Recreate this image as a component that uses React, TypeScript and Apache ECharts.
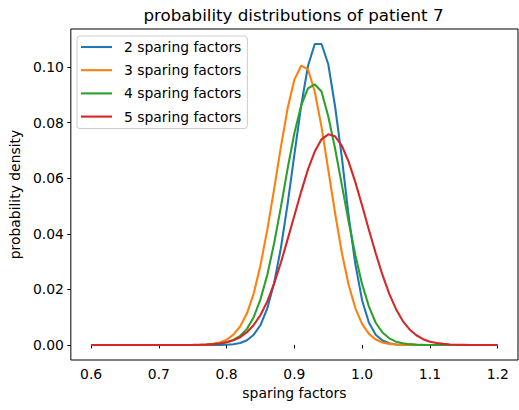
import React, { useEffect, useRef } from "react";
import * as echarts from "echarts";

const X_VALUES = [
  0.6, 0.61, 0.62, 0.63, 0.64, 0.65, 0.66, 0.67, 0.68, 0.69,
  0.7, 0.71, 0.72, 0.73, 0.74, 0.75, 0.76, 0.77, 0.78, 0.79,
  0.8, 0.81, 0.82, 0.83, 0.84, 0.85, 0.86, 0.87, 0.88, 0.89,
  0.9, 0.91, 0.92, 0.93, 0.94, 0.95, 0.96, 0.97, 0.98, 0.99,
  1.0, 1.01, 1.02, 1.03, 1.04, 1.05, 1.06, 1.07, 1.08, 1.09,
  1.1, 1.11, 1.12, 1.13, 1.14, 1.15, 1.16, 1.17, 1.18, 1.19,
  1.2,
];

const SERIES_NAMES = [
  "2 sparing factors",
  "3 sparing factors",
  "4 sparing factors",
  "5 sparing factors",
];

const SERIES_COLORS = ["#1f77b4", "#ff7f0e", "#2ca02c", "#d62728"];

const TWO_SF = [
  0, 0, 0, 0, 0, 0, 0, 0, 0, 0,
  0, 0, 0, 0, 0, 0, 0, 0, 0, 0.00003,
  0.0001, 0.00026, 0.0007, 0.0017, 0.0037, 0.0072, 0.0132, 0.0222, 0.0348, 0.0508,
  0.0686, 0.0861, 0.1004, 0.1083, 0.1083, 0.101, 0.0859, 0.0675, 0.0465, 0.029,
  0.016, 0.008, 0.0037, 0.0016, 0.0006, 0.0002, 0.00007, 0, 0, 0,
  0, 0, 0, 0, 0, 0, 0, 0, 0, 0,
  0,
];

const THREE_SF = [
  0, 0, 0, 0, 0, 0, 0, 0, 0, 0,
  0, 0, 0, 0, 0, 0.00002, 0.00006, 0.00015, 0.0004, 0.0009,
  0.0019, 0.0037, 0.0067, 0.0114, 0.0186, 0.0288, 0.0415, 0.056, 0.0712, 0.0852,
  0.0955, 0.1005, 0.0992, 0.0912, 0.0785, 0.063, 0.0475, 0.0332, 0.0217, 0.0132,
  0.0075, 0.004, 0.002, 0.0009, 0.0004, 0.00015, 0.00005, 0, 0, 0,
  0, 0, 0, 0, 0, 0, 0, 0, 0, 0,
  0,
];

const FOUR_SF = [
  0, 0, 0, 0, 0, 0, 0, 0, 0, 0,
  0, 0, 0, 0, 0, 0, 0, 0.0001, 0.0002, 0.0005,
  0.001, 0.0018, 0.0033, 0.0058, 0.0101, 0.0165, 0.0253, 0.0365, 0.0496, 0.0635,
  0.0763, 0.0862, 0.0923, 0.0938, 0.0912, 0.0822, 0.0707, 0.0576, 0.0444, 0.0323,
  0.0218, 0.0138, 0.008, 0.0045, 0.0024, 0.0012, 0.0006, 0.0003, 0.00012, 0.00005,
  0, 0, 0, 0, 0, 0, 0, 0, 0, 0,
  0,
];

const FIVE_SF = [
  0, 0, 0, 0, 0, 0, 0, 0, 0, 0,
  0, 0, 0, 0, 0, 0.00003, 0.00007, 0.00014, 0.0003, 0.0005,
  0.001, 0.0017, 0.0028, 0.0046, 0.0072, 0.0108, 0.0157, 0.0221, 0.0296, 0.038,
  0.0466, 0.0552, 0.0632, 0.0696, 0.074, 0.0758, 0.0751, 0.0717, 0.066, 0.0585,
  0.0501, 0.0414, 0.033, 0.0252, 0.0184, 0.0129, 0.0086, 0.0056, 0.0035, 0.0021,
  0.0012, 0.0007, 0.0004, 0.0002, 0.0001, 0.00005, 0, 0, 0, 0,
  0,
];

const X_TICKS = [0.6, 0.7, 0.8, 0.9, 1.0, 1.1, 1.2];
const Y_TICKS = [0, 0.02, 0.04, 0.06, 0.08, 0.1];

const TITLE = "probability distributions of patient 7";
const X_LABEL = "sparing factors";
const Y_LABEL = "probability density";

const FONT = "DejaVu Sans";

export default function App() {
  const ref = useRef<HTMLDivElement>(null);

  useEffect(() => {
    if (!ref.current) return;
    const chart = echarts.init(ref.current, null, { renderer: "svg" });
    const allSeries = [TWO_SF, THREE_SF, FOUR_SF, FIVE_SF];

    chart.setOption({
      animation: false,
      textStyle: { fontFamily: FONT },
      grid: {
        left: 69,
        top: 29,
        width: 449,
        height: 331,
        show: true,
        borderColor: "#000",
        borderWidth: 1,
        backgroundColor: "transparent",
      },
      graphic: [
        {
          type: "text",
          x: 293.5,
          y: 15,
          style: {
            text: TITLE,
            fontFamily: FONT,
            fontSize: 16.7,
            fill: "#000",
            textAlign: "center",
            textVerticalAlign: "middle",
          },
        },
      ],
      legend: {
        orient: "vertical",
        left: 77,
        top: 36,
        padding: [4, 6, 5, 4],
        icon: "rect",
        itemWidth: 31,
        itemHeight: 2.1,
        itemGap: 9.2,
        backgroundColor: "rgba(255,255,255,0.8)",
        borderColor: "#cccccc",
        borderWidth: 1,
        borderRadius: 3,
        data: SERIES_NAMES,
        textStyle: {
          fontFamily: FONT,
          fontSize: 13.9,
          color: "#000",
          lineHeight: 14,
          padding: [0, 0, 0, 7],
        },
      },
      xAxis: {
        type: "value",
        min: 0.57,
        max: 1.23,
        name: X_LABEL,
        nameLocation: "middle",
        nameGap: 25,
        nameTextStyle: { fontFamily: FONT, fontSize: 13.9, color: "#000" },
        axisLine: { show: false },
        axisTick: {
          show: true,
          inside: false,
          length: 3.5,
          customValues: X_TICKS,
          lineStyle: { color: "#000", width: 1 },
        },
        axisLabel: {
          customValues: X_TICKS,
          margin: 7,
          fontFamily: FONT,
          fontSize: 13.9,
          color: "#000",
          formatter: (v: number) => v.toFixed(1),
        },
        splitLine: { show: false },
      },
      yAxis: {
        type: "value",
        min: -0.0054,
        max: 0.1137,
        name: Y_LABEL,
        nameLocation: "middle",
        nameGap: 44,
        nameRotate: 90,
        nameTextStyle: { fontFamily: FONT, fontSize: 13.9, color: "#000" },
        axisLine: { show: false },
        axisTick: {
          show: true,
          inside: false,
          length: 3.5,
          customValues: Y_TICKS,
          lineStyle: { color: "#000", width: 1 },
        },
        axisLabel: {
          customValues: Y_TICKS,
          margin: 7,
          fontFamily: FONT,
          fontSize: 13.9,
          color: "#000",
          formatter: (v: number) => v.toFixed(2),
        },
        splitLine: { show: false },
      },
      series: allSeries.map((vals, i) => ({
        name: SERIES_NAMES[i],
        type: "line",
        symbol: "none",
        showSymbol: false,
        smooth: false,
        color: SERIES_COLORS[i],
        itemStyle: { color: SERIES_COLORS[i] },
        lineStyle: { color: SERIES_COLORS[i], width: 2.08 },
        data: X_VALUES.map((x, j) => [x, vals[j]]),
        z: 2 + i,
      })),
    });

    return () => chart.dispose();
  }, []);

  return (
    <div
      ref={ref}
      style={{ position: "absolute", left: 0, top: 0, width: 519, height: 410 }}
    />
  );
}
